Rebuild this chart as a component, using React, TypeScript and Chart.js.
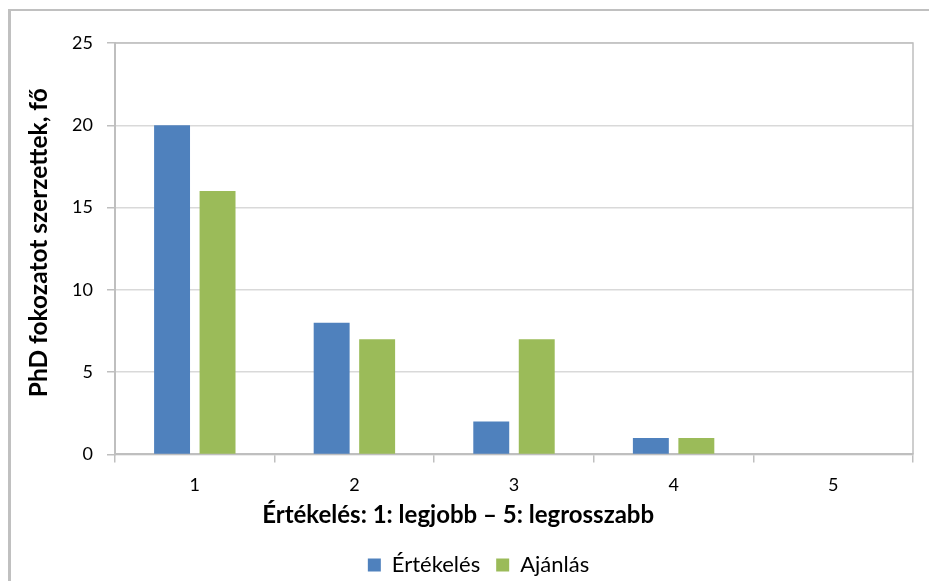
import React, { useEffect, useRef } from "react";
import { Chart, registerables } from "chart.js";

Chart.register(...registerables);

const categories = ["1", "2", "3", "4", "5"];
const ertekeles = [20, 8, 2, 1, 0];
const ajanlas = [16, 7, 7, 1, 0];
const seriesNames = ["Értékelés", "Ajánlás"];
const xTitle = "Értékelés: 1: legjobb – 5: legrosszabb";
const yTitle = "PhD fokozatot szerzettek, fő";

const FONT = "Lato, 'Open Sans', sans-serif";
const AXIS = "#bfbfbf";

const plotBorder = {
  id: "plotBorder",
  afterDraw(chart: any) {
    const { ctx, chartArea } = chart;
    ctx.save();
    ctx.strokeStyle = AXIS;
    ctx.lineWidth = 1.5;
    ctx.beginPath();
    ctx.moveTo(chartArea.left, chartArea.top);
    ctx.lineTo(chartArea.right, chartArea.top);
    ctx.lineTo(chartArea.right, chartArea.bottom);
    ctx.stroke();
    ctx.restore();
  },
};

// Axis titles placed where the original (manually moved) titles sit
const axisTitles = {
  id: "axisTitles",
  afterDraw(chart: any) {
    const { ctx, chartArea } = chart;
    ctx.save();
    ctx.fillStyle = "#000";
    ctx.textAlign = "center";
    ctx.textBaseline = "middle";
    ctx.font = `bold 24px ${FONT}`;
    const xCenter = chartArea.left + (chartArea.right - chartArea.left) * 0.43;
    ctx.fillText(xTitle, xCenter, chartArea.bottom + 61);
    ctx.font = `bold 24.5px ${FONT}`;
    ctx.translate(chartArea.left - 76, (chartArea.top + chartArea.bottom) / 2 - 6);
    ctx.rotate(-Math.PI / 2);
    ctx.fillText(yTitle, 0, 0);
    ctx.restore();
  },
};

export default function App() {
  const ref = useRef<HTMLCanvasElement>(null);
  useEffect(() => {
    if (!ref.current) return;
    const chart = new Chart(ref.current, {
      type: "bar",
      data: {
        labels: categories,
        datasets: [
          { label: seriesNames[0], data: ertekeles, backgroundColor: "#4F81BD" },
          { label: seriesNames[1], data: ajanlas, backgroundColor: "#9BBB59" },
        ],
      },
      options: {
        responsive: false,
        animation: false,
        devicePixelRatio: 1,
        layout: { padding: { top: 43, right: 16, left: 44, bottom: -5 } },
        datasets: { bar: { categoryPercentage: 0.57, barPercentage: 0.79 } },
        plugins: {
          tooltip: { enabled: false },
          legend: {
            position: "bottom",
            labels: {
              boxWidth: 13,
              boxHeight: 13,
              color: "#000",
              font: { family: FONT, size: 22 },
              padding: 16,
            },
          },
        },
        scales: {
          x: {
            grid: {
              offset: true,
              drawOnChartArea: false,
              drawTicks: true,
              tickLength: 8,
              color: AXIS,
              lineWidth: 1.5,
            },
            border: { color: AXIS, width: 2 },
            ticks: { color: "#000", font: { family: FONT, size: 18 }, padding: 12 },
            title: { display: false, text: xTitle },
            afterFit: (s: any) => {
              s.height = 83.6;
            },
          },
          y: {
            min: 0,
            max: 25,
            ticks: { stepSize: 5, color: "#000", font: { family: FONT, size: 18 }, padding: 14 },
            grid: { color: "#d9d9d9", tickColor: AXIS, tickLength: 8, lineWidth: 1.5 },
            border: { color: AXIS, width: 2 },
            title: { display: false, text: yTitle },
            afterFit: (s: any) => {
              s.width = 71;
            },
          },
        },
      },
      plugins: [plotBorder, axisTitles],
    });
    return () => chart.destroy();
  }, []);
  return (
    <div style={{ position: "fixed", left: 0, top: 0, width: 929, height: 581, background: "#fff", overflow: "hidden" }}>
      <canvas ref={ref} width={929} height={581} style={{ position: "absolute", left: 0, top: 0 }} />
      <div
        style={{
          position: "absolute",
          left: 8,
          top: 9,
          width: 940,
          height: 600,
          borderTop: "2px solid #c0c0c0",
          borderLeft: "3px solid #c0c0c0",
          pointerEvents: "none",
        }}
      />
    </div>
  );
}
